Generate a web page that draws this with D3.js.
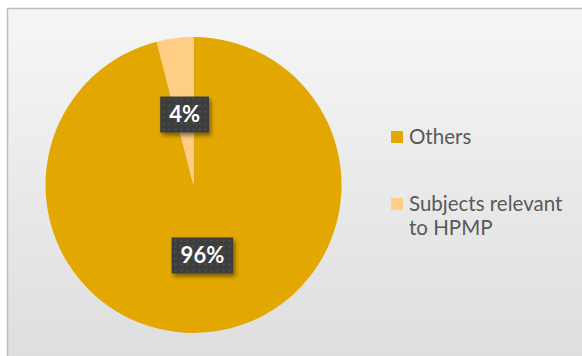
<!DOCTYPE html>
<html>
<head>
<meta charset="utf-8">
<script src="https://cdn.jsdelivr.net/npm/d3@7"></script>
<style>
  html, body { margin: 0; padding: 0; background: #ffffff; }
  svg { display: block; }
</style>
</head>
<body>
<svg id="chart" width="582" height="356"></svg>
<script>
// Share of subjects
const categories = ["Others", "Subjects relevant to HPMP"];
const values = [96, 4];
const labels = ["96%", "4%"];
const legendLines = [["Others"], ["Subjects relevant", "to HPMP"]];
const colors = ["#E2A700", "#FFCE85"];

const W = 582, H = 356;
const svg = d3.select("#chart");
const defs = svg.append("defs");

// Chart area background: soft vertical gradient
const grad = defs.append("linearGradient").attr("id", "bg").attr("x1", 0).attr("y1", 0).attr("x2", 0).attr("y2", 1);
grad.append("stop").attr("offset", "0%").attr("stop-color", "#f6f6f6");
grad.append("stop").attr("offset", "100%").attr("stop-color", "#dedede");

// Dotted fill for the label boxes
const pat = defs.append("pattern").attr("id", "dots").attr("patternUnits", "userSpaceOnUse")
  .attr("width", 6).attr("height", 6);
pat.append("rect").attr("width", 6).attr("height", 6).attr("fill", "#3d3d3d");
pat.append("circle").attr("cx", 3).attr("cy", 3).attr("r", 0.9).attr("fill", "#565656");

const sh = defs.append("filter").attr("id", "shadow").attr("x", "-30%").attr("y", "-30%").attr("width", "170%").attr("height", "170%");
sh.append("feDropShadow").attr("dx", 2).attr("dy", 3).attr("stdDeviation", 2.2)
  .attr("flood-color", "#000").attr("flood-opacity", 0.45);

svg.append("rect").attr("x", 7).attr("y", 8).attr("width", W - 7).attr("height", H - 8)
  .attr("fill", "url(#bg)");
svg.append("path").attr("d", `M7.5,${H} V8.5 H${W}`).attr("fill", "none")
  .attr("stroke", "#bdbdbd").attr("stroke-width", 1.5);

// Pie
const cx = 193.5, cy = 185, R = 148;
const pie = d3.pie().sort(null).value(d => d)(values);
const arc = d3.arc().innerRadius(0).outerRadius(R);
const labelArc = d3.arc().innerRadius(R * 0.96).outerRadius(0);

const g = svg.append("g").attr("transform", `translate(${cx},${cy})`);
g.selectAll("path.slice").data(pie).join("path")
  .attr("class", "slice")
  .attr("d", arc)
  .attr("fill", (d, i) => colors[i]);

// Data labels
const lab = g.selectAll("g.lab").data(pie).join("g").attr("class", "lab")
  .attr("transform", d => { const c = labelArc.centroid(d); return `translate(${c[0]},${c[1]})`; });
lab.append("text")
  .attr("text-anchor", "middle")
  .attr("dy", "0.36em")
  .attr("font-family", "Lato, 'Open Sans', sans-serif")
  .attr("font-weight", "bold")
  .attr("font-size", 22)
  .attr("fill", "#ffffff")
  .text((d, i) => labels[i]);
lab.each(function () {
  const gg = d3.select(this);
  const bb = gg.select("text").node().getBBox();
  gg.insert("rect", "text")
    .attr("x", bb.x - 9).attr("y", -18)
    .attr("width", bb.width + 18).attr("height", 36)
    .attr("fill", "url(#dots)")
    .attr("filter", "url(#shadow)");
});

// Legend
const legend = svg.append("g").attr("transform", "translate(391,131)");
const items = legend.selectAll("g").data(categories).join("g")
  .attr("transform", (d, i) => `translate(0,${i * 67})`);
items.append("rect").attr("width", 12).attr("height", 12)
  .attr("fill", (d, i) => colors[i]);
items.append("text")
  .attr("x", 18).attr("y", 12.5)
  .attr("font-family", "Lato, 'Open Sans', sans-serif")
  .attr("font-size", 20.5)
  .attr("fill", "#595959")
  .selectAll("tspan").data((d, i) => legendLines[i]).join("tspan")
  .attr("x", 18).attr("dy", (d, j) => j === 0 ? 0 : 24)
  .text(d => d);
</script>
</body>
</html>
